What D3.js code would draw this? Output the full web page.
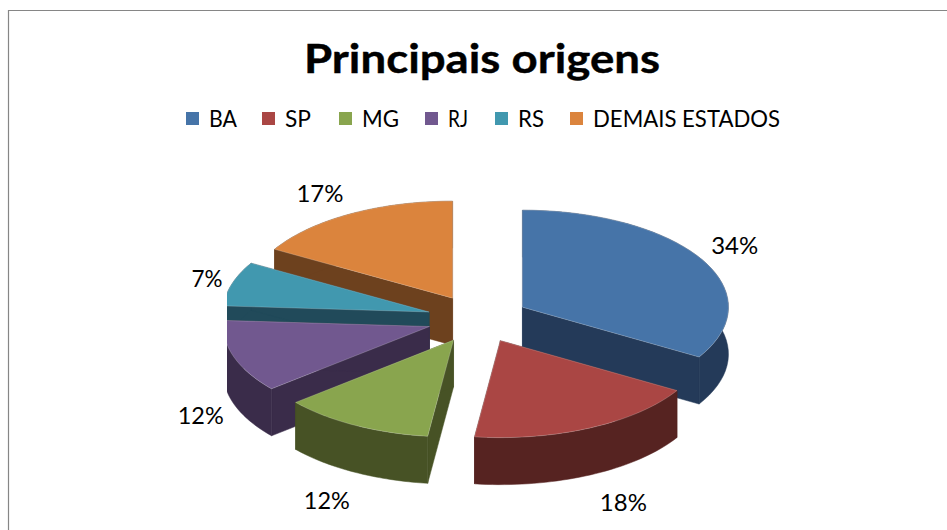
<!DOCTYPE html>
<html><head><meta charset="utf-8">
<script src="https://cdn.jsdelivr.net/npm/d3@7"></script>
<style>html,body{margin:0;padding:0;background:#fff}svg{display:block}text{font-family:Lato,"Open Sans",sans-serif;fill:#000}</style>
</head><body><svg id="c" width="947" height="530"></svg>
<script>
const titleText = "Principais origens";
const categories = ["BA","SP","MG","RJ","RS","DEMAIS ESTADOS"];
const shares = [33.6,18.4,11.9,12.1,7.4,16.6];
const labels = ["34%","18%","12%","12%","7%","17%"];
const topColors = ["#4674a8","#aa4644","#89a54e","#71588f","#4198af","#db843d"];
const wallColors = ["#243a59","#562321","#475225","#3a2c4a","#214a5a","#6d411e"];
const drawOrder = [5,4,3,2,0,1];
const legendX = [186,262,339,425,495,570];
const legendW = [28,26,37,20,26,187];
const labelW = [47,47,46,46,31,47];
const labelShift = [[33,-14],[33,74],[-28,75],[-33,58],[-25,-6],[-30,-21]];

const W = 947, H = 530, cx = 478, cy = 319, rx = 206, ry = 97, depth = 47, explode = 0.248;
const svg = d3.select("#c");
svg.append("path").attr("d","M8.5,530V10.5H947").attr("fill","none").attr("stroke","#868686").attr("stroke-width",1.2);

svg.append("text").attr("x",482).attr("y",73).attr("text-anchor","middle")
  .attr("font-size",40).attr("font-weight",700).attr("stroke","#000").attr("stroke-width",.4)
  .attr("textLength",356).attr("lengthAdjust","spacingAndGlyphs").text(titleText);

categories.forEach((c,i)=>{
  svg.append("rect").attr("x",legendX[i]).attr("y",112).attr("width",13).attr("height",13).attr("fill",topColors[i]);
  svg.append("text").attr("x",legendX[i]+23).attr("y",127).attr("font-size",23)
    .attr("textLength",legendW[i]).attr("lengthAdjust","spacingAndGlyphs").text(c);
});

svg.append("clipPath").attr("id","plot").append("rect").attr("x",227).attr("y",150).attr("width",600).attr("height",380);
const pieG = svg.append("g").attr("clip-path","url(#plot)");
const arcs = d3.pie().sort(null)(shares);
const px = (a,r)=> r*rx*Math.sin(a), py = (a,r)=> -r*ry*Math.cos(a);
const line = d3.line();
drawOrder.forEach(i=>{
  const s = arcs[i], mid=(s.startAngle+s.endAngle)/2;
  const ax = cx+px(mid,explode), ay = cy+py(mid,explode);
  const angs = d3.range(0,41).map(k=>s.startAngle+(s.endAngle-s.startAngle)*k/40);
  const rim = angs.map(a=>[ax+px(a,1),ay+py(a,1)]);
  const g = pieG.append("g");
  const wall = pts=>g.append("path").attr("d",line(pts)+"Z").attr("fill",wallColors[i]).attr("stroke",wallColors[i]).attr("stroke-width",.5);
  const down = p=>[p[0],p[1]+depth];
  wall([[ax,ay],rim[0],down(rim[0]),[ax,ay+depth]]);
  wall([[ax,ay],rim[40],down(rim[40]),[ax,ay+depth]]);
  wall(rim.concat(rim.slice().reverse().map(down)));
  g.append("path").attr("d",line([[ax,ay]].concat(rim))+"Z").attr("fill",topColors[i])
    .attr("stroke","rgba(255,255,255,.35)").attr("stroke-width",.6);
});
arcs.forEach((s,i)=>{
  const mid=(s.startAngle+s.endAngle)/2;
  const ax = cx+px(mid,explode+1), ay = cy+py(mid,explode+1);
  svg.append("text").attr("x",ax+labelShift[i][0]).attr("y",ay+labelShift[i][1]).attr("text-anchor","middle")
    .attr("dominant-baseline","central").attr("font-size",23)
    .attr("textLength",labelW[i]).attr("lengthAdjust","spacingAndGlyphs").text(labels[i]);
});
</script></body></html>
